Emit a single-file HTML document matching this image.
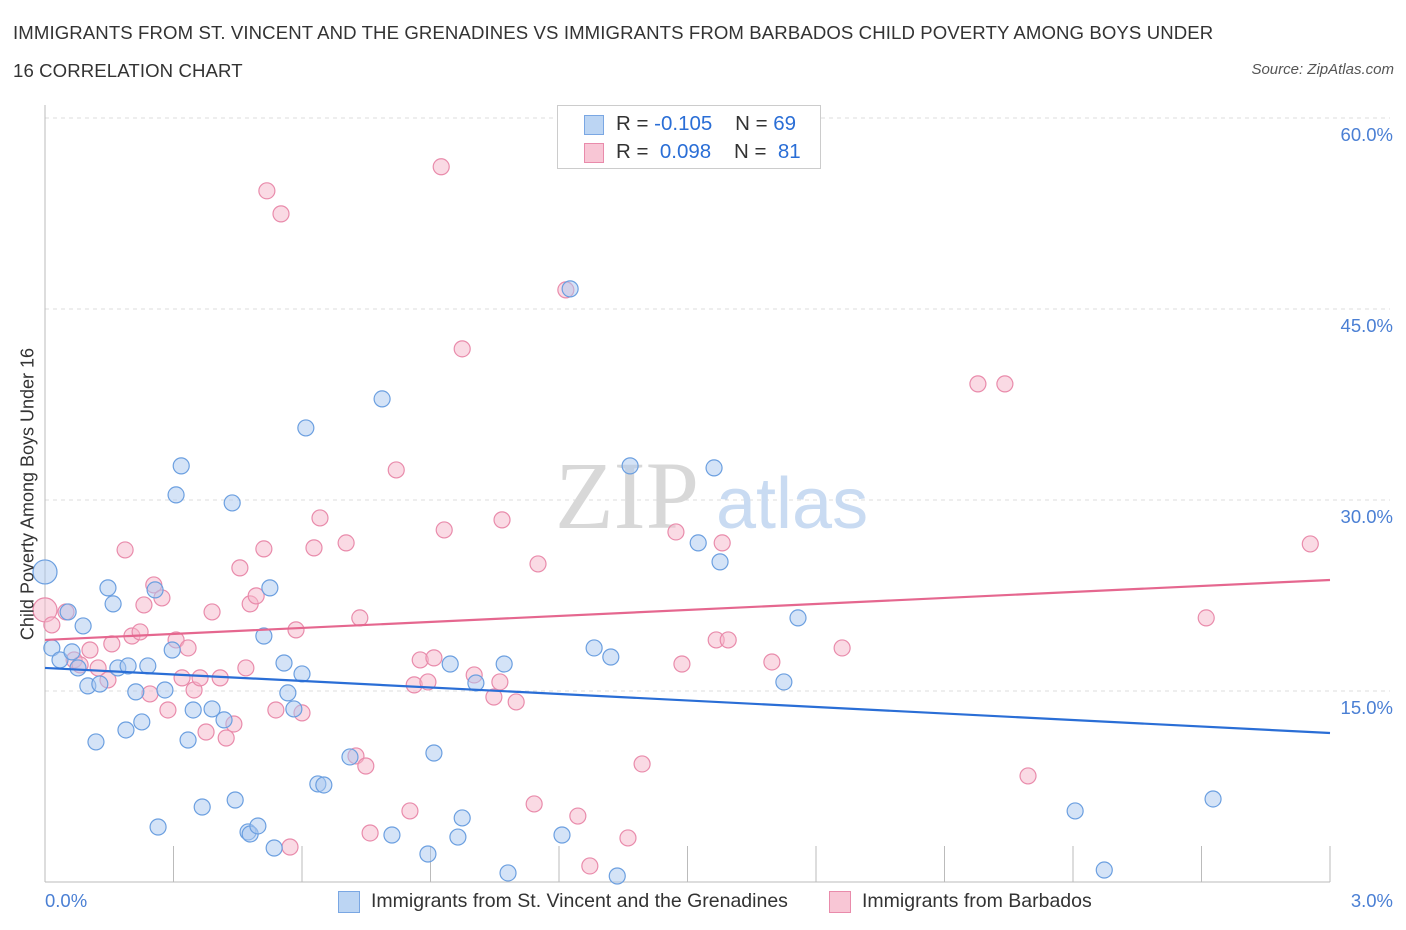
<!DOCTYPE html>
<html><head><meta charset="utf-8"><style>
body{margin:0;background:#fff;font-family:"Liberation Sans",sans-serif;}
#wrap{position:relative;width:1406px;height:930px;overflow:hidden;}
.t{position:absolute;white-space:nowrap;}
</style></head><body>
<div id="wrap">
<div class="t" style="left:13px;top:14px;font-size:18.6px;color:#333;line-height:38px;letter-spacing:0.1px;">IMMIGRANTS FROM ST. VINCENT AND THE GRENADINES VS IMMIGRANTS FROM BARBADOS CHILD POVERTY AMONG BOYS UNDER<br>16 CORRELATION CHART</div>
<div class="t" style="right:12px;top:61px;font-size:15px;color:#555;font-style:italic;">Source: ZipAtlas.com</div>
<svg id="chart" width="1406" height="930" style="position:absolute;left:0;top:0"></svg>
</div>
<script>
const blueX=[0.00,0.016,0.035,0.054,0.063,0.077,0.089,0.100,0.119,0.128,0.147,0.159,0.170,0.194,0.212,0.226,0.189,0.240,0.257,0.264,0.280,0.297,0.306,0.318,0.334,0.346,0.367,0.390,0.418,0.437,0.444,0.474,0.479,0.497,0.511,0.525,0.535,0.558,0.567,0.581,0.600,0.609,0.637,0.651,0.712,0.787,0.810,0.894,0.908,0.946,0.964,0.974,1.006,1.072,1.081,1.207,1.226,1.282,1.321,1.336,1.366,1.525,1.562,1.576,1.725,1.758,2.405,2.473,2.727];
const blueY=[24.35,18.38,17.44,21.21,18.07,16.81,20.11,15.40,11.00,15.55,23.10,21.84,16.81,16.97,14.93,12.57,11.94,16.97,22.94,4.32,15.08,18.22,30.40,32.68,11.15,13.51,5.89,13.59,12.73,29.77,6.44,3.93,3.77,4.40,19.32,23.10,2.67,17.20,14.85,13.59,16.34,35.66,7.70,7.62,9.82,37.94,3.69,2.20,10.13,17.12,3.53,5.03,15.63,17.12,0.71,3.69,46.58,18.38,17.67,0.47,32.68,26.63,32.52,25.14,15.71,20.74,5.58,0.94,6.52];
const pinkX=[0.00,0.016,0.049,0.068,0.082,0.105,0.124,0.147,0.156,0.187,0.203,0.222,0.231,0.245,0.254,0.273,0.287,0.306,0.320,0.334,0.348,0.362,0.376,0.390,0.409,0.423,0.441,0.455,0.469,0.479,0.493,0.511,0.518,0.539,0.551,0.572,0.586,0.600,0.628,0.642,0.703,0.726,0.735,0.749,0.759,0.820,0.852,0.862,0.876,0.894,0.908,0.925,0.932,0.974,1.002,1.048,1.062,1.067,1.100,1.142,1.151,1.216,1.244,1.272,1.361,1.394,1.473,1.487,1.567,1.581,1.595,1.697,1.861,2.178,2.241,2.295,2.711,2.954];
const pinkY=[21.37,20.19,21.21,17.44,17.05,18.22,16.81,15.87,18.70,26.08,19.32,19.64,21.76,14.77,23.33,22.31,13.51,19.01,16.03,18.38,15.08,16.03,11.78,21.21,16.03,11.31,12.41,24.67,16.81,21.84,22.47,26.16,54.28,13.51,52.47,2.75,19.80,13.28,26.24,28.59,26.63,9.90,20.74,9.11,3.85,32.36,5.58,15.48,17.44,15.71,17.60,56.17,27.65,41.87,16.26,14.53,15.71,28.44,14.14,6.13,24.98,46.50,5.18,1.26,3.46,9.27,27.49,17.12,19.01,26.63,19.01,17.28,18.38,39.12,39.12,8.33,20.74,26.55];
const blueTrend=[16.81,11.70];
const pinkTrend=[19.01,23.72];
const yTicks=[15,30,45,60];
const yTickLabels=["15.0%","30.0%","45.0%","60.0%"];
const xTicks=[0,0.3,0.6,0.9,1.2,1.5,1.8,2.1,2.4,2.7,3.0];

const X0=45,X1=1330,Y0=882,YPX=191/15;
const sx=v=>X0+(v/3)*(X1-X0);
const sy=v=>Y0-v*YPX;
const svg=document.getElementById('chart');
const NS='http://www.w3.org/2000/svg';
function mk(tag,attrs,parent){const e=document.createElementNS(NS,tag);for(const k in attrs)e.setAttribute(k,attrs[k]);(parent||svg).appendChild(e);return e;}

yTicks.forEach((v,i)=>{
  const g=mk('line',{x1:X0,x2:1390,y1:sy(v),y2:sy(v),stroke:'#dcdcdc','stroke-dasharray':'4,4'});
  
  
  const t=mk('text',{x:1393,y:sy(v)+23,'text-anchor':'end','font-size':18.5,fill:'#4a7fd4','font-family':'Liberation Sans, sans-serif'});
  t.textContent=yTickLabels[i];
  
  
});
const ax=mk('line',{x1:X0,x2:X1,y1:Y0,y2:Y0,stroke:'#bbb'});


const ay=mk('line',{x1:X0,x2:X0,y1:105,y2:Y0,stroke:'#bbb'});


xTicks.forEach(v=>{
  const t=mk('line',{x1:sx(v),x2:sx(v),y1:Y0-36,y2:Y0,stroke:'#bbb'});
  
  
});
const wm=mk('text',{x:555,y:528,'font-size':96,fill:'#d8d8d8','font-family':'Liberation Serif, serif'});
wm.textContent='ZIP';


const wm2=mk('text',{x:716,y:528,'font-size':72,fill:'#c9dbf2','font-family':'Liberation Sans, sans-serif'});
wm2.textContent='atlas';



function pts(xs,ys,fill,stroke,name){
  xs.forEach((x,i)=>{
    const r=(x===0)?12:8;
    const c=mk('circle',{cx:sx(x),cy:sy(ys[i]),r:r,fill:fill,'fill-opacity':0.5,stroke:stroke,'stroke-width':1.2});
    
    
  });
}
pts(pinkX,pinkY,'#f5b5c9','#e98bab','barbados-point');
pts(blueX,blueY,'#aac8ef','#6b9fe0','st-vincent-point');
const bl=mk('line',{x1:sx(0),y1:sy(blueTrend[0]),x2:sx(3),y2:sy(blueTrend[1]),stroke:'#2a6ed6','stroke-width':2.2});


const pl=mk('line',{x1:sx(0),y1:sy(pinkTrend[0]),x2:sx(3),y2:sy(pinkTrend[1]),stroke:'#e5678f','stroke-width':2.2});


</script>
<div class="t" style="left:45px;top:890px;font-size:18.5px;color:#4a7fd4;">0.0%</div>
<div class="t" style="right:13px;top:890px;font-size:18.5px;color:#4a7fd4;">3.0%</div>
<div class="t" style="left:28px;top:494px;font-size:18px;color:#333;transform:translate(-50%,-50%) rotate(-90deg);">Child Poverty Among Boys Under 16</div>
<div style="position:absolute;left:557px;top:105px;width:262px;height:62px;border:1px solid #ccc;background:#fff;font-size:20.5px;color:#333;">
 <div style="position:absolute;left:26px;top:9px;width:18px;height:18px;background:#bcd5f3;border:1px solid #7aa7e3;"></div>
 <div class="t" style="left:58px;top:6px;">R = <span style="color:#2a6ed6">-0.105</span>&nbsp;&nbsp;&nbsp; N = <span style="color:#2a6ed6">69</span></div>
 <div style="position:absolute;left:26px;top:37px;width:18px;height:18px;background:#f8c6d5;border:1px solid #e98bab;"></div>
 <div class="t" style="left:58px;top:34px;">R = &nbsp;<span style="color:#2a6ed6">0.098</span>&nbsp;&nbsp;&nbsp; N = &nbsp;<span style="color:#2a6ed6">81</span></div>
</div>
<div style="position:absolute;left:338px;top:890px;font-size:19.5px;color:#333;">
 <div style="position:absolute;left:0;top:1px;width:20px;height:20px;background:#bcd5f3;border:1px solid #7aa7e3;"></div>
 <div class="t" style="left:33px;top:0;">Immigrants from St. Vincent and the Grenadines</div>
 <div style="position:absolute;left:491px;top:1px;width:20px;height:20px;background:#f8c6d5;border:1px solid #e98bab;"></div>
 <div class="t" style="left:524px;top:0;">Immigrants from Barbados</div>
</div>
</body></html>
